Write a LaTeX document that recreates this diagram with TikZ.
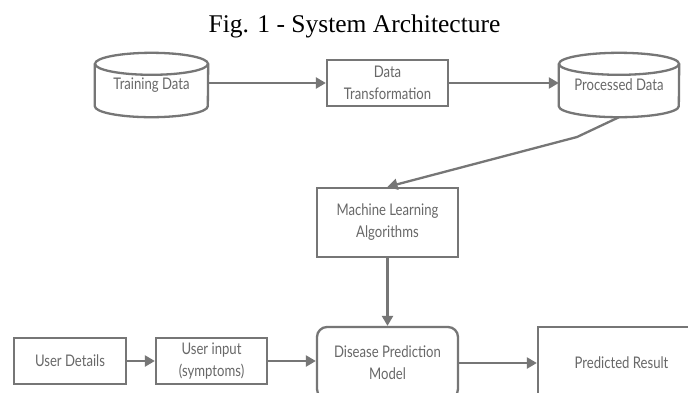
\documentclass[tikz,border=0pt]{standalone}
\usepackage{fontspec}
\setmainfont{Lato}
\newfontfamily\boxfont[FakeStretch=0.82]{Lato}
\newfontfamily\titlefont{Liberation Serif}
\usetikzlibrary{arrows.meta}
\definecolor{edgegray}{HTML}{767676}
\definecolor{textgray}{HTML}{686868}
\tikzset{
  box/.style={draw=edgegray, line width=2.3pt, rectangle, text=textgray,
    font=\boxfont\fontsize{16}{22}\selectfont, align=center, inner sep=0pt},
  cylbox/.style={rectangle, text=textgray, font=\boxfont\fontsize{16}{22}\selectfont,
    align=center, inner sep=0pt},
  cyl/.style={draw=edgegray, line width=2.3pt},
  arr/.style={draw=edgegray, line width=2.3pt,
    -{Triangle[length=10pt,width=11pt]}},
}
\begin{document}
\begin{tikzpicture}[x=1pt,y=-1pt]
\useasboundingbox (0,0) rectangle (688,392);
\clip (0,0) rectangle (688,392);
\fill[white] (0,0) rectangle (688,392);
\node[anchor=base, font=\titlefont\fontsize{25.5}{30}\selectfont] (title) at (354.5,32) {Fig. 1 - System Architecture};

% top row
\node[cylbox, minimum width=113pt, minimum height=64pt] (td) at (151.5,85) {Training Data};
\node[box, minimum width=121pt, minimum height=46pt] (dt) at (387.5,83) {Data\\Transformation};
\node[cylbox, minimum width=120pt, minimum height=64pt] (pd) at (619,85) {Processed Data};

\draw[cyl] ([yshift=-11pt]td.north west) -- ([yshift=11pt]td.south west)
  arc[start angle=180, end angle=360, x radius=56.5pt, y radius=11pt]
  -- ([yshift=-11pt]td.north east);
\draw[cyl] ([yshift=-11pt]td.north) ellipse[x radius=56.5pt, y radius=11pt];
\draw[cyl] ([yshift=-11pt]pd.north west) -- ([yshift=11pt]pd.south west)
  arc[start angle=180, end angle=360, x radius=60pt, y radius=11pt]
  -- ([yshift=-11pt]pd.north east);
\draw[cyl] ([yshift=-11pt]pd.north) ellipse[x radius=60pt, y radius=11pt];

% middle
\node[box, minimum width=141pt, minimum height=69pt] (ml) at (387.5,222.5) {Machine Learning\\Algorithms};

% bottom row
\node[box, minimum width=112pt, minimum height=46pt] (ud) at (70,361) {User Details};
\node[box, minimum width=111pt, minimum height=46pt] (ui) at (211.5,361) {User input\\(symptoms)};
\node[box, rounded corners=10pt, minimum width=141pt, minimum height=72pt] (dp) at (387.5,363) {Disease Prediction\\Model};
\node[box, minimum width=167pt, minimum height=72pt] (pr) at (621.5,363) {Predicted Result};

\coordinate (bend) at (577,137);

% connectors
\draw[arr] (td.east |- dt.west) -- (dt.west);
\draw[arr] (dt.east) -- (dt.east -| pd.west);
\draw[arr] (pd.south) -- (bend) -- (ml.north);
\draw[arr] (ml.south) -- (dp.north);
\draw[arr] (ud.east) -- (ui.west);
\draw[arr] (ui.east) -- (ui.east -| dp.west);
\draw[arr] (dp.east) -- (pr.west);
\end{tikzpicture}
\end{document}
